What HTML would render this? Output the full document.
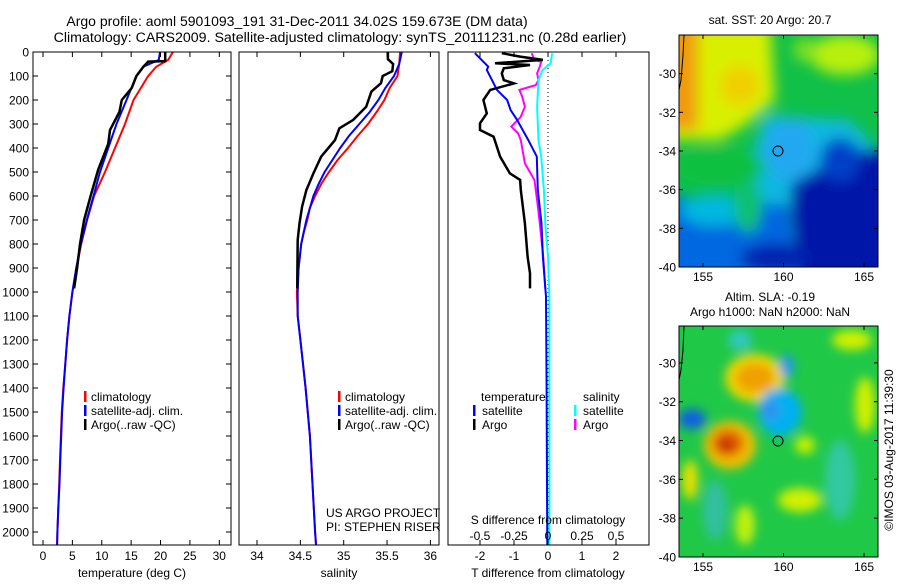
<!DOCTYPE html>
<html><head><meta charset="utf-8">
<style>
body{margin:0;background:#fff;}
svg text{font-family:"Liberation Sans",sans-serif;fill:#000;}
</style></head>
<body>
<svg id="c" width="900" height="580" viewBox="0 0 900 580" xmlns="http://www.w3.org/2000/svg">
<defs>
<filter id="bl" x="-50%" y="-50%" width="200%" height="200%"><feGaussianBlur stdDeviation="7"/></filter>
<filter id="bl2" x="-50%" y="-50%" width="200%" height="200%"><feGaussianBlur stdDeviation="5"/></filter>
<clipPath id="m1c"><rect x="679" y="35" width="199" height="232"/></clipPath>
<clipPath id="m2c"><rect x="679" y="326" width="199" height="231"/></clipPath>
</defs>
<text x="297" y="26" font-size="14" text-anchor="middle">Argo profile: aoml 5901093_191 31-Dec-2011 34.02S 159.673E (DM data)</text>
<text x="340" y="42" font-size="14.2" text-anchor="middle">Climatology: CARS2009. Satellite-adjusted climatology: synTS_20111231.nc (0.28d earlier)</text>

<g id="maps">
<g clip-path="url(#m1c)">
<rect x="669" y="25" width="219" height="252" fill="#10c048"/>
<g filter="url(#bl)">
<polygon points="660,20 770,20 775,100 745,125 720,140 660,140" fill="#d8f000"/>
<rect x="660" y="20" width="38" height="110" fill="#f09a10"/>
<ellipse cx="740" cy="85" rx="20" ry="20" fill="#f0d000"/>
<ellipse cx="845" cy="55" rx="35" ry="20" fill="#b8f010"/>
<ellipse cx="805" cy="50" rx="12" ry="12" fill="#80e020"/>
<polygon points="765,115 850,120 878,150 878,200 760,205 750,165" fill="#10b8e0"/>
<ellipse cx="790" cy="150" rx="25" ry="30" fill="#20a8f0"/>
<polygon points="790,185 850,150 900,150 900,290 800,290" fill="#0018a8"/>
<ellipse cx="840" cy="160" rx="20" ry="22" fill="#0040c8"/>
<polygon points="660,195 790,205 800,290 660,290" fill="#0068e0"/>
<ellipse cx="715" cy="210" rx="35" ry="16" fill="#00b8e0"/>
<ellipse cx="748" cy="205" rx="14" ry="28" fill="#10c070"/>
<ellipse cx="775" cy="258" rx="35" ry="15" fill="#0020b0"/>
<ellipse cx="720" cy="167" rx="45" ry="18" fill="#10c040"/>
</g>
<path d="M684,35 L683,55 L681,80 L679,90" stroke="#000" fill="none" stroke-width="1"/>
</g>
<rect x="679" y="35" width="199" height="232" fill="none" stroke="#000"/>
<circle cx="778" cy="151" r="5" fill="none" stroke="#000"/>
<text x="770" y="24" font-size="12" text-anchor="middle">sat. SST: 20 Argo: 20.7</text>

<g clip-path="url(#m2c)">
<rect x="679" y="326" width="199" height="231" fill="#20c848"/>
<g filter="url(#bl2)">
<ellipse cx="755" cy="378" rx="30" ry="24" fill="#f0d800"/>
<ellipse cx="755" cy="378" rx="20" ry="15" fill="#f0a000"/>
<ellipse cx="730" cy="445" rx="26" ry="24" fill="#f0c000"/>
<ellipse cx="728" cy="443" rx="16" ry="14" fill="#e06000"/>
<ellipse cx="726" cy="445" rx="7" ry="6" fill="#c01800"/>
<ellipse cx="692" cy="419" rx="14" ry="10" fill="#1060e0"/>
<ellipse cx="780" cy="412" rx="22" ry="24" fill="#00b0f0"/>
<ellipse cx="770" cy="410" rx="9" ry="10" fill="#3090f0"/>
<ellipse cx="787" cy="366" rx="7" ry="12" fill="#2098f0"/>
<ellipse cx="740" cy="340" rx="12" ry="10" fill="#30c8c0"/>
<ellipse cx="865" cy="405" rx="10" ry="28" fill="#d0f000"/>
<ellipse cx="852" cy="340" rx="20" ry="10" fill="#d0f000"/>
<ellipse cx="800" cy="500" rx="22" ry="12" fill="#d0f000"/>
<ellipse cx="805" cy="445" rx="10" ry="9" fill="#c8f000"/>
<ellipse cx="690" cy="480" rx="8" ry="20" fill="#e8e000"/>
<ellipse cx="745" cy="525" rx="10" ry="20" fill="#c0f010"/>
<ellipse cx="715" cy="510" rx="12" ry="30" fill="#30c0a0"/>
<ellipse cx="840" cy="480" rx="15" ry="40" fill="#30c8a0"/>
</g>
<path d="M684,326 L683,350 L681,370 L679,380" stroke="#000" fill="none" stroke-width="1"/>
</g>
<rect x="679" y="326" width="199" height="231" fill="none" stroke="#000"/>
<circle cx="778" cy="441" r="5" fill="none" stroke="#000"/>
<text x="770" y="301" font-size="12" text-anchor="middle">Altim. SLA: -0.19</text>
<text x="770" y="316" font-size="12" text-anchor="middle">Argo h1000: NaN h2000: NaN</text>
<text transform="translate(893,450) rotate(-90)" font-size="12" text-anchor="middle">©IMOS 03-Aug-2017 11:39:30</text>
</g>
<g id="plots"></g>
</svg>
<script>
// ---- Data ----
const depthTicks=[0,100,200,300,400,500,600,700,800,900,1000,1100,1200,1300,1400,1500,1600,1700,1800,1900,2000];
const tTicks=[0,5,10,15,20,25,30];
const sTicks=[34,34.5,35,35.5,36];
const dTTicks=[-2,-1,0,1,2];
const dSTicks=[-0.5,-0.25,0,0.25,0.5];
const dSTickLabels=["-0.5","-0.25","0","0.25","0.5"];
const climDepth=[0,33,61,100,200,300,400,500,600,700,800,900,1000,1100,1200,1300,1400,1500,1600,1700,1800,1900,2000,2053];
const climTemp=[22.1,21.3,19.3,17.9,15.4,13.95,12.25,10.55,8.7,7.5,6.5,5.7,5.0,4.5,4.1,3.8,3.45,3.2,3.05,2.9,2.75,2.6,2.45,2.4];
const satTemp=[19.9,19.7,17.1,15.9,14.2,12.5,11.1,9.7,8.6,7.45,6.45,5.65,5.0,4.5,4.1,3.8,3.5,3.25,3.1,2.95,2.8,2.6,2.45,2.4];
const argoTDepth=[0,38,40,61,100,150,200,250,325,383,490,600,700,800,900,985];
const argoTemp=[20.8,20.8,17.9,17.1,15.9,15.1,13.4,13.0,11.4,11.1,9.4,8.1,7.0,6.3,5.8,5.3];
const salDepth=[0,50,100,150,200,250,300,350,400,450,500,550,600,650,700,750,800,900,1000,1100,1200,1400,1600,1800,2000,2053];
const climSal=[35.65,35.64,35.62,35.53,35.47,35.38,35.28,35.16,35.05,34.93,34.83,34.74,34.67,34.61,34.58,34.54,34.51,34.48,34.46,34.47,34.5,34.56,34.61,34.64,34.67,34.68];
const satSal=[35.67,35.64,35.58,35.48,35.40,35.30,35.18,35.06,34.96,34.87,34.78,34.71,34.65,34.61,34.57,34.54,34.51,34.48,34.47,34.47,34.5,34.56,34.61,34.64,34.67,34.68];
const argoSDepth=[0,30,50,80,100,130,165,228,283,318,367,436,506,575,644,714,783,950,985];
const argoSal=[35.51,35.51,35.57,35.56,35.45,35.43,35.32,35.26,35.11,34.95,34.90,34.74,34.65,34.57,34.52,34.49,34.47,34.465,34.465];
const dTDepthSat=[5,61,75,158,200,242,283,367,436,575,714,853,1020,1400,1800,2053];
const dTSat=[-2.15,-1.76,-1.8,-1.5,-1.2,-1.1,-0.91,-0.58,-0.33,-0.3,-0.19,-0.15,-0.06,-0.04,-0.03,-0.02];
const dTDepthArgo=[5,19,33,47,54,68,89,117,131,158,200,256,297,325,353,436,506,533,575,714,853,922,985];
const dTArgo=[-1.36,-0.82,-0.15,-1.56,-0.53,-1.3,-1.36,-1.3,-1.0,-1.7,-1.9,-1.8,-2.0,-2.0,-1.6,-1.41,-1.12,-0.82,-0.8,-0.68,-0.6,-0.53,-0.53];
const dSDepthSat=[5,47,75,117,228,367,436,575,714,853,1020,1400,1800,2053];
const dSSat=[0.03,0.02,-0.04,-0.07,-0.08,-0.07,-0.05,-0.03,-0.02,0.0,0.01,0.01,0.01,0.01];
const dSDepthArgo=[5,33,40,61,89,117,138,158,186,228,270,311,339,367,464,533,617,714,853,985];
const dSArgo=[-0.12,-0.1,-0.05,-0.06,-0.08,-0.07,-0.09,-0.21,-0.19,-0.17,-0.2,-0.27,-0.22,-0.2,-0.17,-0.1,-0.08,-0.06,-0.035,-0.02];
const latTicks=[-30,-32,-34,-36,-38,-40];
const lonTicks=[155,160,165];

// ---- Drawing ----
const NS='http://www.w3.org/2000/svg';
const root=document.getElementById('plots');
function mk(tag,attrs,parent){const e=document.createElementNS(NS,tag);for(const k in attrs)e.setAttribute(k,attrs[k]);(parent||root).appendChild(e);return e;}
const TOP=52,BOT=545;
function yD(d){return TOP+d*0.24;}
function xT(t){return 43+t*5.877;}
function xS(s){return 257+(s-34)*86.7;}
function xDT(t){return 548+t*34;}
function xDS(s){return 548+s*136;}
function poly(xs,ds,fx,color,w,name){
  const pts=xs.map((v,i)=>fx(v).toFixed(1)+','+yD(ds[i]).toFixed(1)).join(' ');
  const p=mk('polyline',{points:pts,fill:'none',stroke:color,'stroke-width':w,'stroke-linejoin':'miter'});
  
  
}
function frame(x0,x1,name){
  const r=mk('rect',{x:x0,y:TOP,width:x1-x0,height:BOT-TOP,fill:'none',stroke:'#000','stroke-width':1});
  
  
}
function xticks(vals,labels,fx,ly){
  vals.forEach((v,i)=>{const x=fx(v);
    mk('line',{x1:x,x2:x,y1:TOP,y2:TOP+5,stroke:'#000'});
    mk('line',{x1:x,x2:x,y1:BOT,y2:BOT-5,stroke:'#000'});
    const t=mk('text',{x:x,y:ly,'font-size':12,'text-anchor':'middle'});t.textContent=labels[i];
    
    
  });
}
function label(x,y,txt,name,anchor){const t=mk('text',{x:x,y:y,'font-size':12,'text-anchor':anchor||'start'});t.textContent=txt;
  
  }
function legMark(x,y,color){mk('rect',{x:x,y:y-10,width:2.5,height:11,fill:color});}

// depth axis
depthTicks.forEach(d=>{const y=yD(d);
  mk('line',{x1:33,x2:38,y1:y,y2:y,stroke:'#000'});
  mk('line',{x1:231,x2:226,y1:y,y2:y,stroke:'#000'});
  const t=mk('text',{x:29,y:y+4.5,'font-size':12,'text-anchor':'end'});t.textContent=d;
  
  
});
// panel 1
poly(climTemp,climDepth,xT,'#ff0000',2,'temp-climatology-line');
poly(satTemp,climDepth,xT,'#0000ff',2,'temp-satellite-line');
poly(argoTemp,argoTDepth,xT,'#000000',2.5,'temp-argo-line');
frame(33,231,'temperature-panel');
xticks(tTicks,tTicks.map(String),xT,560);
label(132,577,'temperature (deg C)','temperature-axis-title','middle');
legMark(84,401,'#ff0000');label(91,401,'climatology','legend-climatology');
legMark(84,415,'#0000ff');label(91,415,'satellite-adj. clim.','legend-satellite');
legMark(84,429,'#000000');label(91,429,'Argo(..raw -QC)','legend-argo');
// panel 2
poly(climSal,salDepth,xS,'#ff0000',2,'sal-climatology-line');
poly(satSal,salDepth,xS,'#0000ff',2,'sal-satellite-line');
poly(argoSal,argoSDepth,xS,'#000000',2.5,'sal-argo-line');
frame(239,439,'salinity-panel');
xticks(sTicks,sTicks.map(String),xS,560);
label(339,577,'salinity','salinity-axis-title','middle');
legMark(338,401,'#ff0000');label(345,401,'climatology','legend-climatology');
legMark(338,415,'#0000ff');label(345,415,'satellite-adj. clim.','legend-satellite');
legMark(338,429,'#000000');label(345,429,'Argo(..raw -QC)','legend-argo');
label(326,517,'US ARGO PROJECT','project-label');
label(326,531,'PI: STEPHEN RISER','pi-label');
// panel 3
mk('line',{x1:xDT(0),x2:xDT(0),y1:TOP,y2:BOT,stroke:'#000','stroke-dasharray':'1,3'});
poly(dSArgo,dSDepthArgo,xDS,'#ff00ff',2,'sdiff-argo-line');
poly(dSSat,dSDepthSat,xDS,'#00ffff',2,'sdiff-satellite-line');
poly(dTSat,dTDepthSat,xDT,'#0000ff',2,'tdiff-satellite-line');
poly(dTArgo,dTDepthArgo,xDT,'#000000',2.5,'tdiff-argo-line');
frame(448,649,'difference-panel');
xticks(dTTicks,dTTicks.map(String),xDT,560);
dSTicks.forEach((v,i)=>{const t=mk('text',{x:xDS(v),y:540,'font-size':12,'text-anchor':'middle'});t.textContent=dSTickLabels[i];
  
  });
label(548,524,'S difference from climatology','s-diff-axis-title','middle');
label(548,577,'T difference from climatology','t-diff-axis-title','middle');
label(481,401,'temperature','legend-temperature-header');
label(583,401,'salinity','legend-salinity-header');
legMark(473,415,'#0000ff');label(482,415,'satellite','legend-t-satellite');
legMark(473,429,'#000000');label(482,429,'Argo','legend-t-argo');
legMark(574,415,'#00ffff');label(583,415,'satellite','legend-s-satellite');
legMark(574,429,'#ff00ff');label(583,429,'Argo','legend-s-argo');

// map axes
function mapAxes(top,bot,latTop){
  const pxLat=(bot-top)/(-40-latTop);
  latTicks.forEach(l=>{const y=top+(l-latTop)*pxLat;
    mk('line',{x1:679,x2:683,y1:y,y2:y,stroke:'#000'});
    mk('line',{x1:878,x2:874,y1:y,y2:y,stroke:'#000'});
    const t=mk('text',{x:676,y:y+4.5,'font-size':12,'text-anchor':'end'});t.textContent=l;
    
    
  });
  lonTicks.forEach(l=>{const x=703+(l-155)*16.1;
    mk('line',{x1:x,x2:x,y1:top,y2:top+4,stroke:'#000'});
    mk('line',{x1:x,x2:x,y1:bot,y2:bot-4,stroke:'#000'});
    const t=mk('text',{x:x,y:bot+14,'font-size':12,'text-anchor':'middle'});t.textContent=l;
    
    
  });
}
mapAxes(35,267,-28.0);
mapAxes(326,557,-28.1);
</script>
</body></html>
